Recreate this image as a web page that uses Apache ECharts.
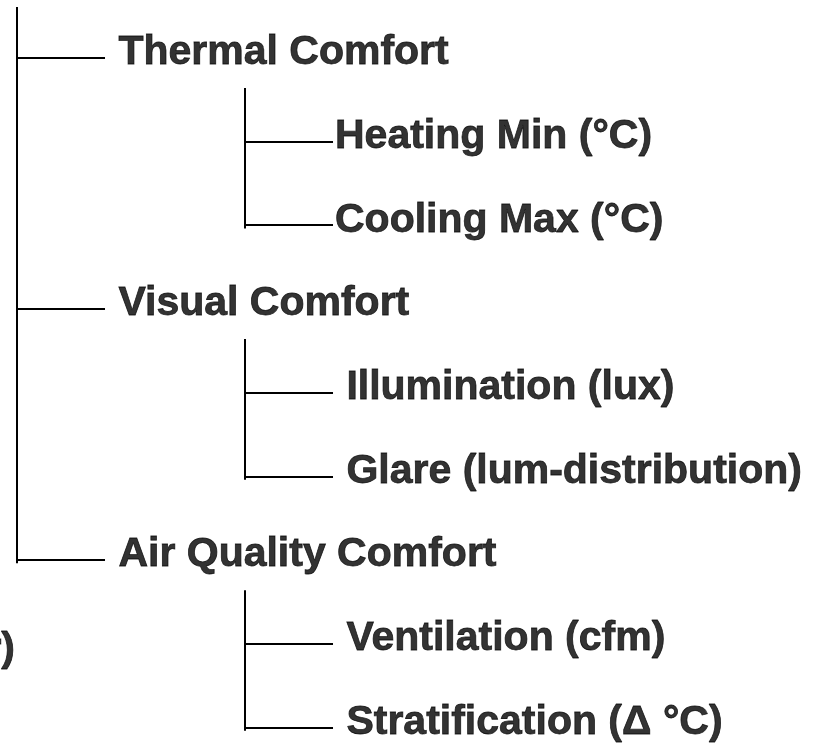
<!DOCTYPE html>
<html>
<head>
<meta charset="utf-8">
<script src="https://cdn.jsdelivr.net/npm/echarts@6/dist/echarts.min.js"></script>
<style>
  html, body { margin: 0; padding: 0; background: #fff; }
  #main { width: 816px; height: 749px; }
</style>
</head>
<body>
<div id="main"></div>
<script>
// tree rows, top to bottom
const labels = [' Thermal Comfort', 'Heating Min (\u00B0C)', 'Cooling Max (\u00B0C)',
    ' Visual Comfort', ' Illumination (lux)', ' Glare (lum-distribution)',
    ' Air Quality Comfort', ' Ventilation (cfm)', ' Stratification (\u0394 \u00B0C)'];
const depths = [0, 1, 1, 0, 1, 1, 0, 1, 1];
const parents = [-1, 0, 0, -1, 3, 3, -1, 6, 6];

// text of the level to the left, mostly cut off by the page edge
const sideLabels = ['r)'];
const sideRows = [7];

document.addEventListener('DOMContentLoaded', function () {
    drawTree();
});

function drawTree() {
    let myChart = echarts.init(document.getElementById('main'));

    const branch = 0.386;   // length of a horizontal branch, in depth units

    const textStyle = {
        color: '#000',
        fontFamily: 'Liberation Sans, Arial, sans-serif',
        fontWeight: 'bold',
        fontSize: 41,
        textBorderColor: '#000',
        textBorderWidth: 0.8
    };

    // build connector segments from the tree structure
    let segments = [];
    let groups = {};
    labels.forEach(function (l, i) {
        let p = parents[i];
        if (!(p in groups)) groups[p] = [];
        groups[p].push(i);
    });
    Object.keys(groups).forEach(function (key) {
        let p = Number(key);
        let kids = groups[key];
        let d = depths[kids[0]];
        let top = p < 0 ? kids[0] - 0.607 : p + 0.36;
        let bottom = kids[kids.length - 1] + 0.04;
        segments.push({ coords: [[d, top], [d, bottom]] });
        kids.forEach(function (k) {
            segments.push({ coords: [[d, k], [d + branch, k]] });
        });
    });

    let option = {
        animation: false,
        grid: { left: 0, right: 0, top: 0, bottom: 0 },
        xAxis: {
            type: 'value',
            min: -17 / 228,
            max: (816 - 17) / 228,
            show: false
        },
        yAxis: {
            type: 'value',
            inverse: true,
            min: -57.8 / 83.7,
            max: (749 - 57.8) / 83.7,
            show: false
        },
        series: [
            {
                type: 'lines',
                coordinateSystem: 'cartesian2d',
                polyline: false,
                lineStyle: { color: '#000', width: 2, opacity: 1 },
                data: segments,
                silent: true
            },
            {
                type: 'scatter',
                symbolSize: 0,
                data: labels.map(function (l, i) { return [depths[i] + branch, i]; }),
                label: Object.assign({
                    show: true,
                    position: 'right',
                    distance: 2,
                    offset: [0, -5],
                    formatter: function (p) { return labels[p.dataIndex]; }
                }, textStyle),
                silent: true
            },
            {
                type: 'scatter',
                symbolSize: 0,
                data: sideRows.map(function (r) { return [0, r]; }),
                label: Object.assign({
                    show: true,
                    position: 'left',
                    distance: 2,
                    offset: [0, 6],
                    formatter: function (p) { return sideLabels[p.dataIndex]; }
                }, textStyle),
                silent: true
            }
        ]
    };

    myChart.setOption(option);
}
</script>
</body>
</html>
